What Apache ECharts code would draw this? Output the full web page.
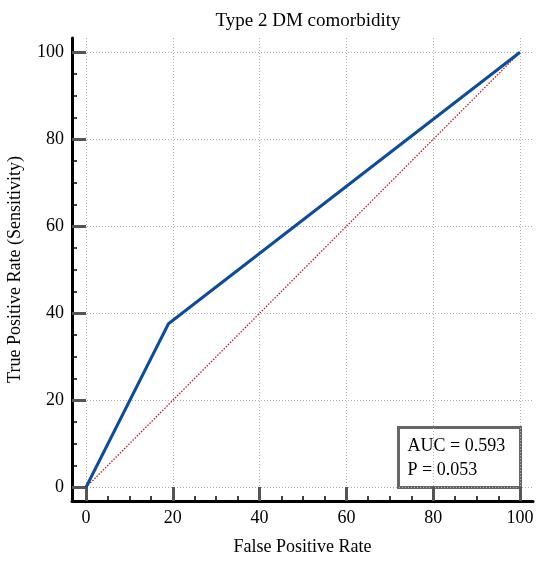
<!DOCTYPE html>
<html>
<head>
<meta charset="utf-8">
<script src="https://cdn.jsdelivr.net/npm/echarts@6/dist/echarts.min.js"></script>
<style>
  html, body { margin: 0; padding: 0; background: #fff; }
  #chart { width: 550px; height: 566px; }
</style>
</head>
<body>
<div id="chart"></div>
<script>
// ROC curve points (false positive rate, true positive rate), in %
var rocFpr = [0, 19, 100];
var rocTpr = [0, 37.6, 100];
// chance line
var refFpr = [0, 100];
var refTpr = [0, 100];
// ticks, same on both axes
var majorTicks = [0, 20, 40, 60, 80, 100];
var minorTicks = [5, 10, 15, 25, 30, 35, 45, 50, 55, 65, 70, 75, 85, 90, 95];
var statLines = ['AUC = 0.593', 'P = 0.053'];

var serif = '"Liberation Serif", "Times New Roman", serif';

function pairs(xs, ys) {
    return xs.map(function (x, i) { return [x, ys[i]]; });
}

var chart = echarts.init(document.getElementById('chart'));

// axis range padded so the frame sits a little outside 0..100
var xRange = { min: -3.226, max: 102.995 };
var yRange = { min: -3.15, max: 103.29 };

function mainAxis(range, pos, name, gap) {
    return {
        type: 'value',
        position: pos,
        min: range.min,
        max: range.max,
        axisLine: { show: true, onZero: false, lineStyle: { color: '#000', width: 3 } },
        axisTick: {
            show: true, inside: true, length: 14, customValues: majorTicks,
            lineStyle: { color: '#555', width: 3 }
        },
        axisLabel: {
            customValues: majorTicks, color: '#000', fontFamily: serif, fontSize: 18, margin: 8
        },
        splitLine: { show: true, lineStyle: { color: '#b0b0b0', type: [1, 2], width: 1 } },
        name: name,
        nameLocation: 'middle',
        nameGap: gap,
        nameTextStyle: { color: '#000', fontFamily: serif, fontSize: 18 }
    };
}

function minorAxis(range, pos) {
    return {
        type: 'value',
        position: pos,
        min: range.min,
        max: range.max,
        axisLine: { show: false, onZero: false },
        axisTick: {
            show: true, inside: true, length: 5, customValues: minorTicks,
            lineStyle: { color: '#000', width: 1.5 }
        },
        axisLabel: { show: false },
        splitLine: { show: false }
    };
}

chart.setOption({
    animation: false,
    title: {
        text: 'Type 2 DM comorbidity',
        left: 303,
        top: 7,
        textAlign: 'center',
        textStyle: { color: '#000', fontFamily: serif, fontSize: 19, fontWeight: 'normal' }
    },
    grid: {
        left: 72, right: 17, top: 38, bottom: 65,
        containLabel: false,
        outerBoundsMode: 'none'
    },
    xAxis: [
        mainAxis(xRange, 'bottom', 'False Positive Rate', 37),
        minorAxis(xRange, 'bottom')
    ],
    yAxis: [
        mainAxis(yRange, 'left', 'True Positive Rate (Sensitivity)', 48),
        minorAxis(yRange, 'left')
    ],
    series: [
        {
            type: 'line',
            xAxisIndex: 0, yAxisIndex: 0,
            data: pairs(refFpr, refTpr),
            symbol: 'none',
            lineStyle: { color: '#b81c24', width: 1.3, type: [1.5, 1.5] },
            z: 3
        },
        {
            type: 'line',
            xAxisIndex: 0, yAxisIndex: 0,
            data: pairs(rocFpr, rocTpr),
            symbol: 'none',
            lineStyle: { color: '#0d4c9c', width: 3 },
            z: 4
        }
    ],
    graphic: [
        {
            type: 'group',
            left: 397,
            top: 426,
            z: 10,
            children: [
                {
                    type: 'rect',
                    shape: { x: 0, y: 0, width: 122, height: 60 },
                    style: { fill: '#fff', stroke: '#666', lineWidth: 3 }
                },
                {
                    type: 'text',
                    x: 9, y: 7,
                    style: {
                        text: statLines.join('\n'),
                        fill: '#000',
                        font: '18px ' + serif,
                        lineHeight: 24
                    }
                }
            ]
        }
    ]
});
</script>
</body>
</html>
